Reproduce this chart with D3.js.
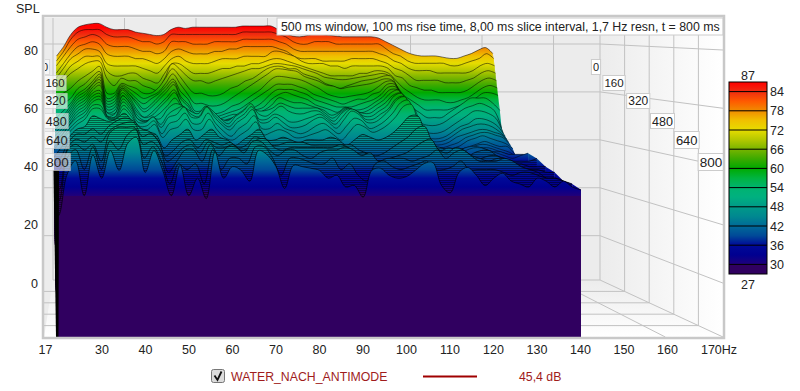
<!DOCTYPE html>
<html>
<head>
<meta charset="utf-8">
<script src="https://cdn.jsdelivr.net/npm/d3@7"></script>
<style>
	html, body {margin:0; padding:0; background:#fff;}
	text {font-family:"Liberation Sans", Arial, sans-serif; fill:#222;}
</style>
</head>
<body>
<div id="chart"></div>
<script>
// frequencies of the columns below: 18, 20, ... 140 Hz
const freqs = d3.range(18, 141, 2);

// SPL per slice
const slice0 = [75,79,84,87,88,88.5,88.5,87,86,86, 86,85,84.5,84,83.5,84,86,87,86.5,87, 87,87,87,87,87,87,87.5,87.5,87.5,87.5, 87.5,86,84.5,83.3,83,83.5,84.2,84,83.7,83.3, 83,83,83,83,83,82.5,81,79.5,78,76.5, 75.5,75,75,75,74.5,74,74,75,76,77.5, 78.5,76];
const slice8 = [73,77,82,85,86,86,86,84,83,83, 83,82,81,81,80,81,84,84,84,84, 84,84,84,84,84,84,85,85,85,85, 85,84,83,81,80,80,81,81,81,80, 80,80,80,80,80,80,78,76,75,73, 72,72,72,72,72,71,71,72,73,74, 76,74];
const slice16 = [71,75,79,82,83,84,83,80,79,79, 79,78,77,77,76,77,81,81,81,80, 80,80,81,81,81,81,82,82,82,82, 82,81,80,78,77,77,77,77,77,77, 77,77,77,77,77,76,75,73,72,70, 69,69,69,68,68,68,68,68,69,71, 72,71];
const slice24 = [68,72,76,79,80,81,80,76,75,75, 75,74,74,73,72,74,77,78,77,76, 76,76,77,77,78,78,79,79,79,79, 79,78,77,75,74,74,74,73,73,73, 73,74,74,74,74,73,72,70,69,67, 65,65,65,65,64,64,64,65,66,68, 69,68];
const slice32 = [66,70,74,76,78,78,77,72,71,71, 71,71,70,69,68,71,74,75,73,72, 72,72,73,74,74,74,75,75,75,75, 77,77,76,75,73,72,72,72,71,71, 70,71,71,71,71,71,70,67,66,63, 62,61,61,60,60,60,60,61,63,65, 66,65];
const slice40 = [64,67,71,73,75,75,75,69,67,67, 68,68,66,65,64,68,72,72,70,68, 68,68,69,70,70,71,71,72,72,73, 74,74,73,72,71,70,69,68,67,67, 67,67,68,68,69,69,68,65,62,60, 58,57,57,57,56,56,57,58,60,62, 63,62];
const slice48 = [62,65,68,70,72,73,73,66,63,66, 65,65,63,62,61,66,72,70,67,65, 65,64,65,66,67,68,69,70,70,71, 72,72,71.5,71,70,69,68,66.5,66,65.5, 65.5,66,66.5,67,67.5,68,67,63,59,57, 55,53,53,53,53,54,55,56,58,60, 60,59];
const slice64 = [58,60,62,65,67,69,71,60,60,64, 63,62,60,60,62,66,70,67,63,60, 60,59,59,60,62,63,65,66,68,70, 71,71,70,70,68,67,66,64,63,62, 63,64,65,65.5,66,67,67,62,57,54, 52,50,50,50,52,54,56,58,58,58, 56,53];
const slice80 = [54,56,58,62,64,67,69,58,59,63.5, 62,60,58,59,60.5,64,68,64,60,56, 56,55,55,56,58,60,62,64,66,68, 70,70,69.5,69,67,66,65,63.5,63,62, 62.6,63,63.5,64,65,66,65.5,61,56,54, 48,47,47,48,50,52,54,55,56,55, 53,46];
const slice96 = [50,53,56,60,62,65,68,57,58,63, 61,58,56,58,60,63,66,61,58,53, 53,52,52,53,55,56,58,60,62,65, 67,67,66.5,66,65,63.5,62,60,59,58.5, 59,59.5,60,61,63,65,65,59,54,51, 45,44,44,45,47,49,51,53,53,52, 50,44];
const slice112 = [48,51,55,59,61,64,67,56,57,62.5, 60,57,54,56,59,62,65,59,56,52, 52,51,51,52,53,54,56,58,60,62, 64,64,64,63,62,60,59,58,57,56, 57,58,58,60,61,64,64,57,51,48, 43,42,42,43,45,47,48,50,50,49, 47,43];
const slice128 = [47,50,54,58,60,64,66,55,56,62.5, 60,56,53,55,58,61,64,58,55,50, 51,50,50,51,52,52,54,55,57,60, 62,62,62,61,60,58,57,56,55,55, 55,56,57,58,60,63,63,56,49,46, 42,41,41,42,44,46,47,48,48,47, 45,42];
const slice144 = [46,49,53,57,59,63,65,54,55,62, 59,54,51,53,56,59,62,56,53,51, 51,50,49,50,51,52,53,54,55,58, 60,61,60,59,58,56,55,54,53,55, 54,54,55,57,59,62,62,55,48,44, 41,40,40,41,43,44,45,46,46,45, 44,41];
const slice160 = [45,48,52,56,58,62,64,53,54,61, 58,53,51,52,55,58,61,56,53,52, 54,52,50,50,51,53,55,53,54,56, 59,58,57,57,56,55,54,52,53,55, 54,53,54,56,58,61,62,54,47,43, 40,39,39,40,41,43,44,45,45,44, 43,40];
const slice180 = [44,47,51,55,57,61,62,53,53,60, 57,52,50,51,53,56,59,55,53,52, 55,53,51,50,52,54,56,54,54,55, 57,56,55,55,55,55,53,51,53,55, 54,53,53,55,57,60,61,53,46,42, 39,38,38,39,40,42,43,44,43,42, 41,39];
const slice200 = [43,46,50,54,56,60,61,52,53,60, 57,51,50,51,51,55,57,56,54,53, 56,54,51,49,52,54,57,53,52,54, 56,54,53,53,54,54,52,50,53,55, 54,52,52,54,56,60,61,53,45,42, 39,38,38,39,39,40,41,42,41,40, 40,37];
const slice220 = [42,45,49,53,55,59,60,52,52,59, 56,51,50,52,49,53,55,56,53,52, 56,53,50,48,51,53,56,51,51,53, 52,50,50,51,52,53,51,49,52,55, 54,51,51,53,55,59,60,52,45,41, 38,37,37,38,39,40,41,41,40,39, 38,36];
const slice240 = [42,45,49,52,54,58,59,52,52,58, 55,50,50,52,48,52,53,56,52,52, 56,52,49,47,50,52,55,50,50,52, 50,48,48,49,51,52,50,47.7,51,54.4, 53,50,50,52,55,59,60,52,44,41, 38,37,37,39,40,40,40,40,39,38, 37,36];
const slice280 = [41,44,48,51,53,57,57,52,52,57, 54,49,49,51,46,50,51,54,50,50, 54,50,47,45,48,50,53,48,48,50, 48,47,46,47,49,50,48,46,49,52, 51,48,49,51,54,58,59,51,43,41, 38,37,38,40,41,41,40,39,39,38, 38,38];
const slice320 = [40,44,47,50,52,56,56,52,52,56, 53,49,48,50,45,48,49,52,48,48, 52,48,45,44,46,48,51,46,47,48, 47,45,45,46,47,48,46,44,47,50, 49,47,48,50,53,57,57.7,49,43,41, 39,38,38,40,41,41,40,39,38,37, 38,39];
const slice400 = [38,42,46,49,50,54,53,52,53,55, 52,49,48,47,42,45,47,49,45,47, 49,46,45,43,45,47,49,45,45,46, 45,44,45,45,45,46,45,43,45,47, 46,45,46,48,51,54,54,47,43,42, 41,39,38,40,41,41,39,38,37,37, 37,38];
const slice480 = [36,39,45,48,48,50,48,51,53,54, 53,50,49,46,40,42,45,46,43,46, 45,44,45,43,44,47,46,44,44,45, 45,45,44,44,44,44,44,44,42,41, 40,41,43,45,47,50,51,45,42,43, 42,40,38,39,40,40,38,37,37,36, 36,36];
const slice560 = [35,36,44,47,46,48,46,50,52,53, 53,48,49,46,39,41,44,45,42,46, 44,44,45,43,44,47,47,44,43,44, 44,44,44,44,44,45,44,42,42,40, 39,40,41,42,44,46,47,43,42,44, 43,41,40,39,40,40,38,37,36,36, 35,35];
const slice640 = [35,30,44,46,44,46,40,50,52,52, 52,46,47,44,36,40,44,44,40,46, 42,45,45,43,47,47,44,42,44,44, 42,41,43,44,44,45,44,42,43,40, 41,41,41,40,41,42,44,41,43,44, 42,40,40,40,41,40,38,37,36,34, 34,33];
const slice720 = [32,27,42,45,38,46,38,48,45,50, 52,42,46,41,33,40,38,40,33,45, 38,42,42,40,46,46,42,36,42,42, 41,40,40,42,38,40,36,34,40,41, 39,38,39,40,41,38,38,39,41,38, 38,38,38,37,36,37,37,36,35,35, 34,33];
const slice800 = [28,23,37,42,30,44,36,45.5,38.7,48, 50,38,45.5,38.7,30,40.4,30,36,29,45, 36,40,38.7,35,45.5,44,40,32.5,40.4,40, 39.4,38.7,36,37,33,33.5,29.5,38.7,39.4,37, 36,36.6,38.7,41,41.4,33.5,31,38,39.7,37, 33.5,36,37.7,35,34,33,36,35,33,35, 33,32];

const sliceTimes = [0,8,16,24,32,40,48,64,80,96,112,128,144,160,180,200,220,240,280,320,400,480,560,640,720,800];
const sliceValues = [slice0,slice8,slice16,slice24,slice32,slice40,slice48,slice64,slice80,slice96,slice112,slice128,slice144,slice160,slice180,slice200,slice220,slice240,slice280,slice320,slice400,slice480,slice560,slice640,slice720,slice800];

const splTicks = [80,60,40,20,0];
const hzTicks = [17,30,40,50,60,70,80,90,100,110,120,130,140,150,160,170];
const hzGrid = [37,57,77,97,117,137,157];
const timeTicks = [0,160,320,480,640,800];
const colorbarTicks = [84,78,72,66,60,54,48,42,36,30];

const colorStops = [87,84,81,78,75,72,69,66,63,60,57,54,51,48,45,42,39,36,33,30.01,30,27];
const colorValues = ["#ff0000","#f02c10","#ff5a00","#f08c00","#f0c000","#e6dc00","#b4c800","#78b400","#3caa00","#00aa00","#00b440","#00b470","#00b080","#009a88","#008890","#006a98","#004a98","#000a98","#000090","#20007a","#300060","#300060"];

const titleText = "500 ms window, 100 ms rise time, 8,00 ms slice interval, 1,7 Hz resn, t = 800 ms";

const width = 800, height = 391;
const floorSpl = -18.5;

// the two planes the slices lie between: t=0 at the back wall, t=800 at the front
const xBack = d3.scaleLinear().domain([17,170]).range([53,600]);
const xFront = d3.scaleLinear().domain([17,140]).range([45,581]);
const yBack = d3.scaleLinear().domain([floorSpl,80]).range([280,44]);
const yFront = d3.scaleLinear().domain([floorSpl,80]).range([337,50]);
const depth = d3.scaleLinear().domain([0,800]).range([0,1]);

function px(f,t){
	return xBack(f)+(xFront(f)-xBack(f))*depth(t);
}
function py(spl,t){
	return yBack(spl)+(yFront(spl)-yBack(spl))*depth(t);
}

const svg = d3.select("#chart").append("svg").attr("width",width).attr("height",height).style("display","block");
const defs = svg.append("defs");

doWalls();
doSlices();
doLabels();
doAxes();
doColorbar();
doLegend();

function wallGradient(id,x1,y1,x2,y2,from,to){
	let g = defs.append("linearGradient").attr("id",id).attr("gradientUnits","userSpaceOnUse")
		.attr("x1",x1).attr("y1",y1).attr("x2",x2).attr("y2",y2);
	g.append("stop").attr("offset",0).attr("stop-color",from);
	g.append("stop").attr("offset",1).attr("stop-color",to);
}

function doWalls(){
	let left = xBack(17), right = xBack(170), fl = xFront(17)-1, fr = 723,
		top = 18, backFloor = yBack(floorSpl), frontFloor = yFront(floorSpl);
	wallGradient("rightWall",right,0,fr,0,"#ececec","#ffffff");
	wallGradient("floorWall",0,backFloor,0,frontFloor,"#ececec","#ffffff");
	svg.append("rect").attr("x",fl).attr("y",top).attr("width",fr-fl).attr("height",frontFloor-top).attr("fill","#ececec");
	svg.append("path").attr("d",`M${right},${top}L${fr},${top}L${fr},${frontFloor}L${right},${backFloor}Z`).attr("fill","url(#rightWall)");
	svg.append("path").attr("d",`M${left},${backFloor}L${right},${backFloor}L${fr},${frontFloor}L${fl},${frontFloor}Z`).attr("fill","url(#floorWall)");

	let grid = svg.append("g").attr("stroke","#c2c2c2").attr("stroke-width",1).attr("fill","none");
	// horizontal lines: back wall, then running out over the right wall
	d3.range(0,100,20).forEach(function(spl){
		grid.append("path").attr("d",`M${fl},${yBack(spl)}L${right},${yBack(spl)}L${fr},${yFront(spl)}`);
	});
	grid.append("path").attr("d",`M${left},${top}V${backFloor}H${right}V${top}`);
	grid.append("path").attr("d",`M${right},${backFloor}L${fr},${frontFloor}`);
	// verticals over the back wall and the lines over the floor
	let floorFront = d3.scaleLinear().domain([17,170]).range([fl,723]);
	hzGrid.forEach(function(f){
		grid.append("path").attr("d",`M${xBack(f)},${top}V${backFloor}L${floorFront(f)},${frontFloor}`);
	});
	// right wall verticals and floor lines, one for each time tick
	timeTicks.slice(1,-1).forEach(function(t){
		let x = right+(fr-right)*depth(t), y = backFloor+(frontFloor-backFloor)*depth(t);
		grid.append("path").attr("d",`M${x},${top}V${y}H${fl}`);
	});
}

function doSlices(){
	let pattern = defs.append("pattern").attr("id","hatch").attr("patternUnits","userSpaceOnUse").attr("width",4).attr("height",2);
	pattern.append("rect").attr("width",4).attr("height",1).attr("fill","#000").attr("fill-opacity",0.45);
	defs.append("clipPath").attr("id","dataClip").append("path").attr("d","M54,0L54,200L57,337L700,337L700,0Z");

	let g = svg.append("g").attr("clip-path","url(#dataClip)");
	let last = freqs.length-1;
	sliceValues.forEach(function(values,i){
		let t = sliceTimes[i], id = "slice"+t;
		let grad = defs.append("linearGradient").attr("id",id).attr("gradientUnits","userSpaceOnUse")
			.attr("x1",0).attr("x2",0).attr("y1",py(87,t)).attr("y2",py(27,t));
		colorStops.forEach(function(spl,k){
			grad.append("stop").attr("offset",(87-spl)/60).attr("stop-color",colorValues[k]);
		});
		let area = d3.area().curve(d3.curveCatmullRom.alpha(0.5))
			.x(function(d,k){return px(freqs[k],t);})
			.y1(function(d){return py(d,t);})
			.y0(py(floorSpl,t));
		let line = area.lineY1();
		// side of the surface at the top frequency, up to the slice before
		if(i>0){
			let pt = sliceTimes[i-1], pv = sliceValues[i-1][last];
			g.append("path").attr("fill","url(#"+id+")").attr("d",d3.line()([
				[px(freqs[last],pt),py(pv,pt)],
				[px(freqs[last],t),py(values[last],t)],
				[px(freqs[last],t),py(floorSpl,t)],
				[px(freqs[last],pt),py(floorSpl,pt)]
			]));
		}
		g.append("path").attr("d",area(values)).attr("fill","url(#"+id+")");
		if(t>=400 && t<800){
			g.append("path").attr("d",area(values)).attr("fill","url(#hatch)");
		}
		g.append("path").attr("d",line(values)).attr("fill","none").attr("stroke","#000").attr("stroke-opacity",0.75).attr("stroke-width",t<400?0.7:0.9);
	});

	// dark side of the surface along the left edge
	svg.append("path").attr("d","M53.5,170L59,170L58.5,337L56,337Z").attr("fill","#000");
}

function doLabels(){
	let labelY = d3.scaleLinear().domain([0,160,320,480,640,800]).range([67,83,101,121,140,162]);
	let labelSize = d3.scaleLinear().domain([0,800]).range([11,13.5]);
	let rightX = d3.scaleLinear().domain([0,160,800]).range([596,614,711]);
	let leftX = d3.scaleLinear().domain([0,160,800]).range([45,55,57.5]);
	defs.append("clipPath").attr("id","leftClip").append("rect").attr("x",45).attr("y",0).attr("width",100).attr("height",height);

	function addLabels(parent,xOf,opacity){
		timeTicks.forEach(function(t){
			let w = String(t).length*labelSize(t)*0.56+3, h = t>=640?17:15;
			let x = xOf(t), y = labelY(t);
			parent.append("rect").attr("x",x-w/2).attr("y",y-h/2).attr("width",w).attr("height",h)
				.attr("fill","#fff").attr("fill-opacity",opacity).attr("stroke","#ccc").attr("stroke-opacity",opacity);
			parent.append("text").attr("x",x).attr("y",y).attr("dy","0.36em").attr("text-anchor","middle")
				.attr("font-size",labelSize(t)).text(t);
		});
	}
	addLabels(svg.append("g"),rightX,1);
	addLabels(svg.append("g").attr("clip-path","url(#leftClip)"),leftX,0.6);

	svg.append("rect").attr("x",277).attr("y",18).attr("width",446).attr("height",17).attr("fill","#fff").attr("stroke","#ccc");
	svg.append("text").attr("x",281).attr("y",27).attr("dy","0.36em").attr("font-size",12.35).text(titleText);
	svg.append("rect").attr("x",43).attr("y",16).attr("width",681).attr("height",322).attr("fill","none").attr("stroke","#c8c8c8").attr("stroke-width",2.5);
}

function doAxes(){
	let xAxisScale = d3.scaleLinear().domain([17,140]).range([45,580]);
	let xAxis = d3.axisBottom(xAxisScale).tickValues(hzTicks).tickSize(0).tickPadding(0)
		.tickFormat(function(d){return d;});
	let xg = svg.append("g").attr("transform","translate(0,345)").call(xAxis);
	xg.select(".domain").remove();
	xg.selectAll("text").attr("font-size",12.5).attr("fill","#222").attr("font-family",null);
	xg.selectAll(".tick").filter(function(d){return d==170;}).select("text").text("170Hz").attr("dx",8);

	let yAxisScale = d3.scaleLinear().domain([0,80]).range([283,50]);
	let yAxis = d3.axisLeft(yAxisScale).tickValues(splTicks).tickSize(0).tickPadding(0);
	let yg = svg.append("g").attr("transform","translate(38,0)").call(yAxis);
	yg.select(".domain").remove();
	yg.selectAll("text").attr("font-size",12.5).attr("fill","#222").attr("font-family",null);

	svg.append("text").attr("x",16).attr("y",8).attr("dy","0.36em").attr("font-size",12.5).text("SPL");
}

function doColorbar(){
	let barY = d3.scaleLinear().domain([87,27]).range([82,274]);
	let x = 729, w = 38;
	let grad = defs.append("linearGradient").attr("id","barGradient").attr("x1",0).attr("x2",0).attr("y1",0).attr("y2",1);
	colorStops.forEach(function(spl,k){
		grad.append("stop").attr("offset",(87-spl)/60).attr("stop-color",colorValues[k]);
	});
	svg.append("rect").attr("x",x).attr("y",barY(87)).attr("width",w).attr("height",barY(27)-barY(87)).attr("fill","url(#barGradient)").attr("stroke","#000");
	colorbarTicks.forEach(function(spl){
		svg.append("line").attr("x1",x).attr("x2",x+w).attr("y1",barY(spl)).attr("y2",barY(spl)).attr("stroke","#000");
		svg.append("text").attr("x",x+w+3).attr("y",barY(spl)).attr("dy","0.36em").attr("font-size",12.5).text(spl);
	});
	svg.append("text").attr("x",x+w/2).attr("y",75).attr("dy","0.36em").attr("text-anchor","middle").attr("font-size",12.5).text(87);
	svg.append("text").attr("x",x+w/2).attr("y",284).attr("dy","0.36em").attr("text-anchor","middle").attr("font-size",12.5).text(27);
}

function doLegend(){
	let red = "#a01c1c";
	svg.append("rect").attr("x",211.5).attr("y",369.5).attr("width",13).attr("height",13).attr("rx",2).attr("fill","#dcdcdc").attr("stroke","#777");
	svg.append("path").attr("d","M214.5,375.5L217.5,380L221.5,371.5").attr("fill","none").attr("stroke","#111").attr("stroke-width",1.8);
	svg.append("text").attr("x",231).attr("y",377).attr("dy","0.36em").attr("font-size",12.3).style("fill",red).text("WATER_NACH_ANTIMODE");
	svg.append("line").attr("x1",423).attr("x2",477).attr("y1",376.5).attr("y2",376.5).attr("stroke","#a00000").attr("stroke-width",2);
	svg.append("text").attr("x",519).attr("y",377).attr("dy","0.36em").attr("font-size",12.3).style("fill",red).text("45,4 dB");
}
</script>
</body>
</html>
